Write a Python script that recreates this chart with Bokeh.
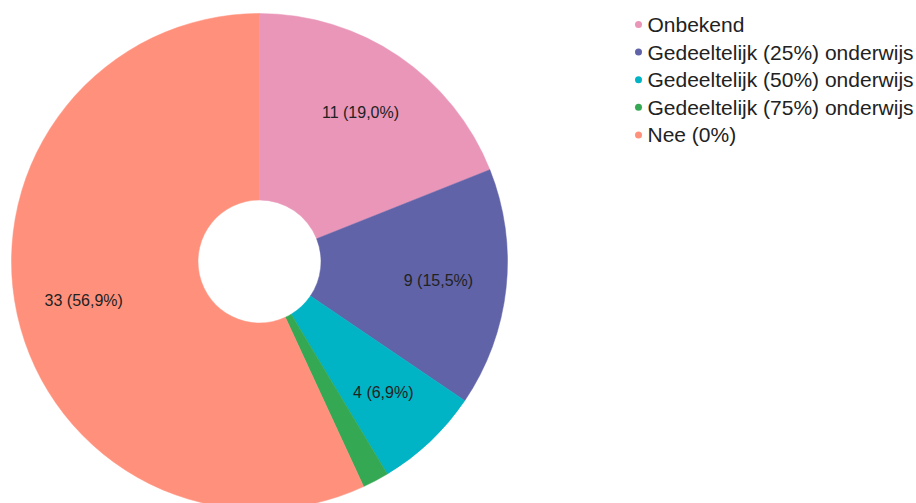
import numpy as np
from bokeh.plotting import figure
from bokeh.models import Range1d, ColumnDataSource
from bokeh.core.properties import value
from bokeh.embed import file_html
from bokeh.resources import INLINE

categories = ["Onbekend", "Gedeeltelijk (25%) onderwijs", "Gedeeltelijk (50%) onderwijs",
              "Gedeeltelijk (75%) onderwijs", "Nee (0%)"]
counts = [11, 9, 4, 1, 33]
colors = ["#E996B9", "#6063A8", "#00B3C5", "#34A853", "#FF917C"]
label_texts = ["11 (19,0%)", "9 (15,5%)", "4 (6,9%)", "", "33 (56,9%)"]

W, H = 916, 503
p = figure(width=W, height=H, output_backend="svg", toolbar_location=None,
           x_range=Range1d(0, W), y_range=Range1d(-H, 0),
           min_border=0, outline_line_color=None)
p.axis.visible = False
p.grid.visible = False
p.background_fill_color = "white"
p.border_fill_color = "white"

cx, cy = 259, -261
r_out, r_in = 248, 61.5

vals = np.array(counts, dtype=float)
frac = vals / vals.sum()
cum = np.concatenate([[0], np.cumsum(frac)])
start = np.pi / 2 - cum[:-1] * 2 * np.pi
end = np.pi / 2 - cum[1:] * 2 * np.pi
mid = (start + end) / 2

src = ColumnDataSource(dict(start=start, end=end, color=colors))
p.annular_wedge(x=cx, y=cy, inner_radius=r_in, outer_radius=r_out,
                start_angle="start", end_angle="end", direction="clock",
                fill_color="color", line_color="color", line_width=0.5, source=src)

r_lab = 180
lab = ColumnDataSource(dict(x=cx + r_lab * np.cos(mid), y=cy + r_lab * np.sin(mid), t=label_texts))
p.text(x="x", y="y", text="t", source=lab, text_align="center", text_baseline="middle",
       text_font=value("Liberation Sans"), text_font_size="16px", text_color="#222222")

# legend
ly = -(24 + 27.6 * np.arange(len(categories)))
p.scatter(x=[638] * len(categories), y=ly, size=7, fill_color=colors, line_color=None)
p.text(x=[647] * len(categories), y=ly, text=categories, text_align="left", text_baseline="middle",
       text_font=value("Liberation Sans"), text_font_size="21px", text_color="#222222")

open("out.html", "w").write(file_html(p, INLINE))
